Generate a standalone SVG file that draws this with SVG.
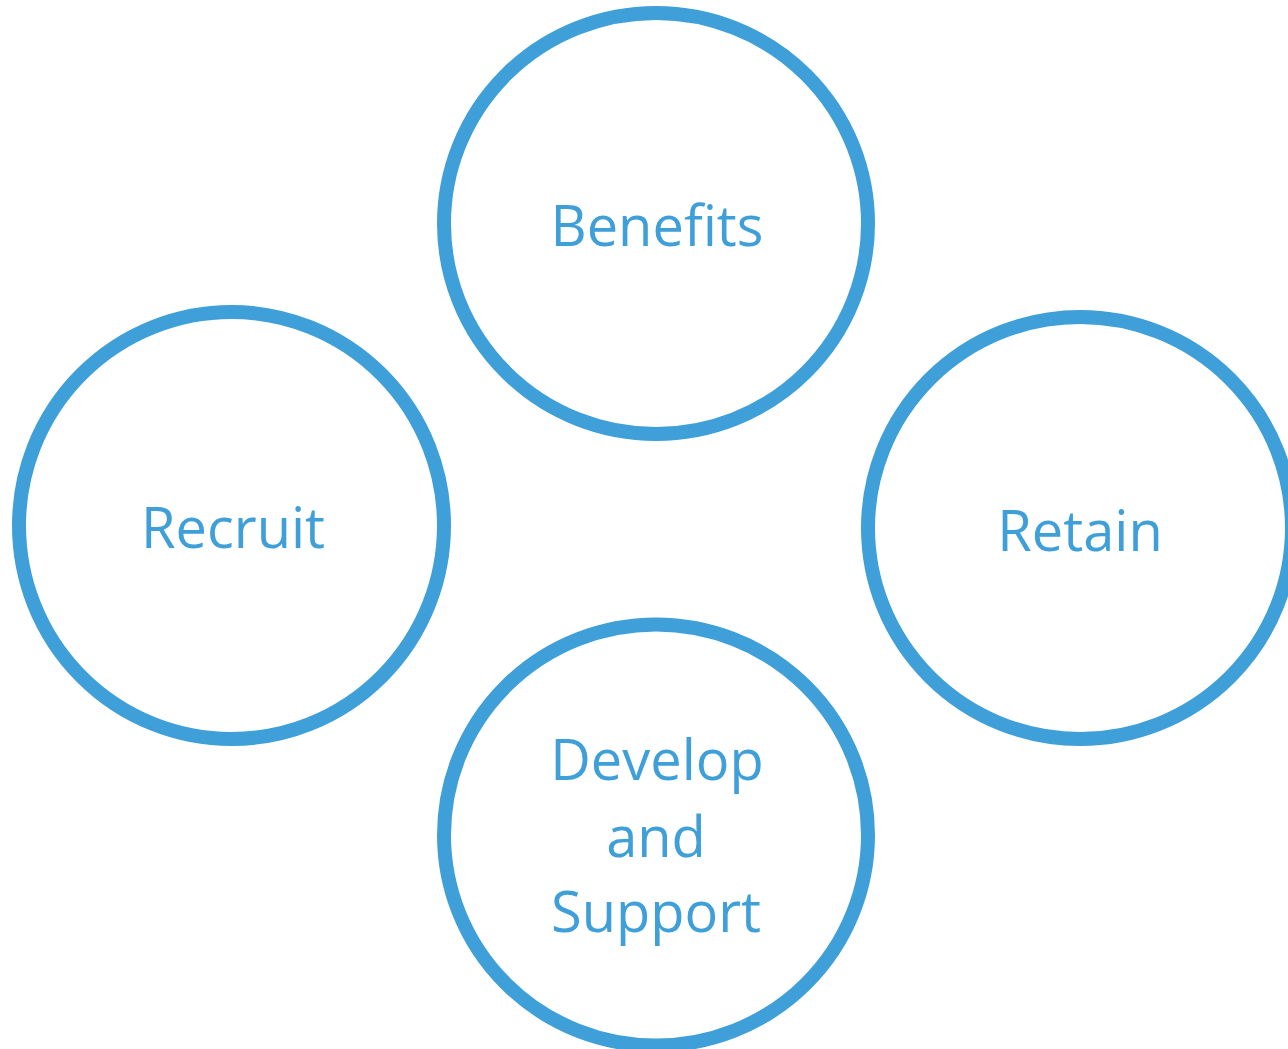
<svg xmlns="http://www.w3.org/2000/svg" width="1288" height="1049" viewBox="0 0 1288 1049">
<style>
.c{fill:#fff;stroke:#3F9FD8;stroke-width:14}
.t{fill:#3F9FD8;font-family:"Open Sans","Liberation Sans",sans-serif;font-size:56px;text-anchor:middle;letter-spacing:0}
</style>
<rect width="1288" height="1049" fill="#fff"/>
<g id="benefits"><ellipse class="c" cx="656" cy="223.5" rx="212" ry="210.5"/><text class="t" x="657" y="246">Benefits</text></g>
<g id="recruit"><ellipse class="c" cx="231.5" cy="525.5" rx="212.5" ry="213.5"/><text class="t" x="233" y="548">Recruit</text></g>
<g id="retain"><ellipse class="c" cx="1080" cy="528" rx="212" ry="211"/><text class="t" x="1080" y="551">Retain</text></g>
<g id="develop"><ellipse class="c" cx="656" cy="835" rx="212" ry="210.5"/><text class="t" x="657" y="780">Develop</text><text class="t" x="656" y="857">and</text><text class="t" x="656" y="932">Support</text></g>
<g id="connectors"></g>
</svg>
